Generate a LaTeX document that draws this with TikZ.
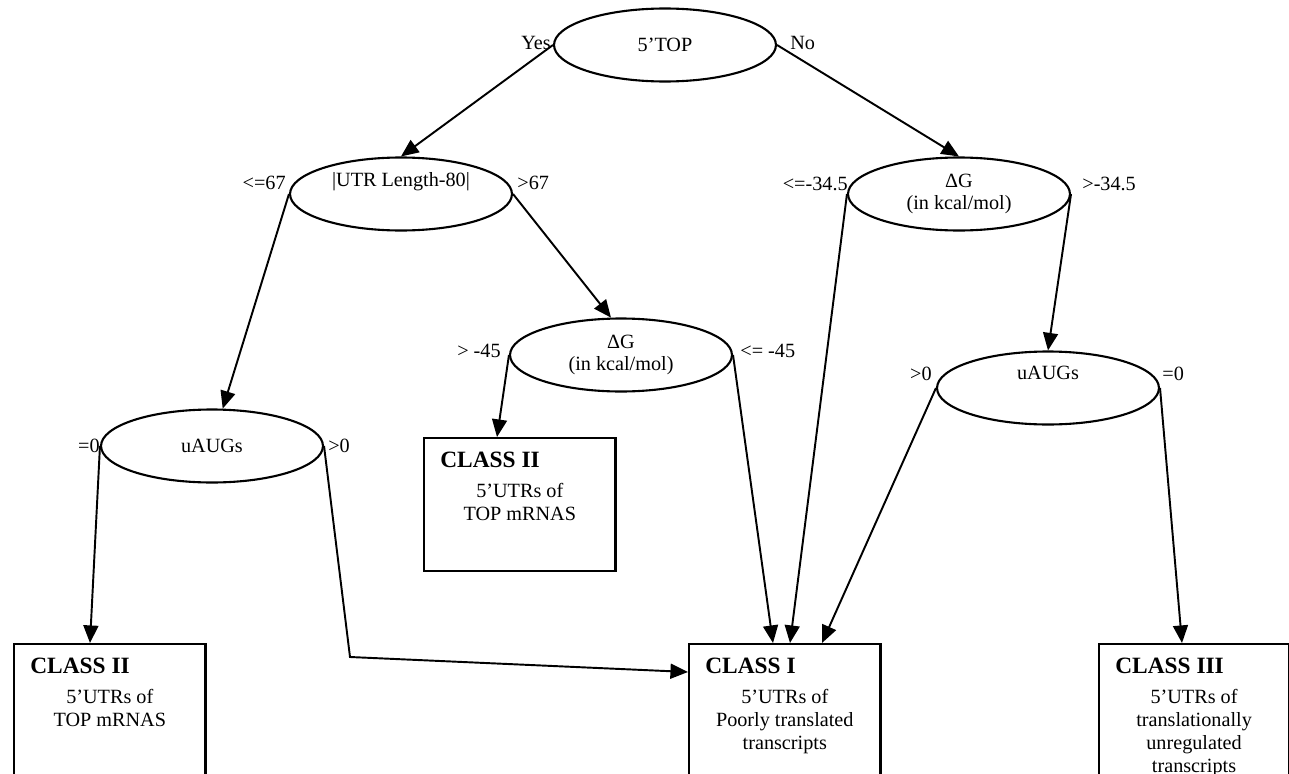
\documentclass[tikz,border=0pt]{standalone}
\usepackage{fontspec}
\setmainfont{Liberation Serif}
\usetikzlibrary{calc,positioning,arrows.meta,shapes.geometric}
\tikzstyle{test} = [ellipse, draw, line width=1.2pt, minimum width=4.44cm, minimum height=1.46cm, inner sep=0pt, align=center, font=\fontsize{11.5}{13}\selectfont]
\tikzstyle{classbox} = [rectangle, draw, line width=1.2pt, minimum width=3.83cm, minimum height=2.66cm, anchor=north west, inner sep=0pt]
\tikzstyle{classname} = [anchor=base west, inner sep=0pt, font=\fontsize{13.3}{15}\selectfont\bfseries]
\tikzstyle{classtext} = [anchor=north, align=center, inner sep=0pt, font=\fontsize{11.5}{13}\selectfont]
\tikzstyle{branch} = [inner sep=0pt, font=\fontsize{11.5}{13}\selectfont]
\tikzstyle{flow} = [line width=1.1pt, -{Triangle[length=10pt,width=8.5pt]}]

\begin{document}
\begin{tikzpicture}[x=0.02cm, y=-0.02cm]
      \useasboundingbox (0,0) rectangle (1289,774);
      % tests
      \node[test] (top) at (665,45) {5’TOP};
      \node[test] (len) at (401,194) {|UTR Length-80|\\\strut};
      \node[test] (dgR) at (959,194) {ΔG\\(in kcal/mol)};
      \node[test] (dgM) at (621,355) {ΔG\\(in kcal/mol)};
      \node[test] (uaR) at (1048,388) {uAUGs\\\strut};
      \node[test] (uaL) at (212,446) {uAUGs};
      % classes
      \node[classbox] (c2m) at (423,437) {};
      \node[classbox, minimum height=3cm] (c2l) at (13,643) {};
      \node[classbox, minimum height=3cm] (c1) at (688,643) {};
      \node[classbox, minimum height=3cm, minimum width=3.8cm] (c3) at (1098,643) {};
      \node[classname] (c2mname) at ($(c2m.north west)+(17,30)$) {CLASS II};
      \node[classtext] (c2mtext) at ($(c2m.north)+(0,46)$) {5’UTRs of\\TOP mRNAS};
      \node[classname] (c2lname) at ($(c2l.north west)+(17,30)$) {CLASS II};
      \node[classtext] (c2ltext) at ($(c2l.north)+(0,46)$) {5’UTRs of\\TOP mRNAS};
      \node[classname] (c1name) at ($(c1.north west)+(17,30)$) {CLASS I};
      \node[classtext] (c1text) at ($(c1.north)+(0,46)$) {5’UTRs of\\Poorly translated\\transcripts};
      \node[classname] (c3name) at ($(c3.north west)+(17,30)$) {CLASS III};
      \node[classtext] (c3text) at ($(c3.north)+(0,46)$) {5’UTRs of\\translationally\\unregulated\\transcripts};
      % branch labels
      \node[branch, anchor=base east] (yes) at (551,50) {Yes};
      \node[branch, anchor=base west] (no) at (790,50) {No};
      \node[branch, anchor=base east] (lenlo) at (286,189) {<=67};
      \node[branch, anchor=base west] (lenhi) at (517,189) {>67};
      \node[branch, anchor=base east] (dgRlo) at (848,190) {<=-34.5};
      \node[branch, anchor=base west] (dgRhi) at (1082,190) {>-34.5};
      \node[branch, anchor=base east] (dgMhi) at (501,357) {> -45};
      \node[branch, anchor=base west] (dgMlo) at (740,357) {<= -45};
      \node[branch, anchor=base east] (uaRhi) at (932,380) {>0};
      \node[branch, anchor=base west] (uaRzero) at (1162,380) {=0};
      \node[branch, anchor=base east] (uaLzero) at (100,452) {=0};
      \node[branch, anchor=base west] (uaLhi) at (328,452) {>0};
      % arrows
      \coordinate (bend) at (350,657);
      \draw[flow] (top.west) -- (len.north);
      \draw[flow] (top.east) -- (dgR.north);
      \draw[flow] (len.west) -- (uaL.74);
      \draw[flow] (len.east) -- (dgM.105);
      \draw[flow] (dgR.west) -- ($(c1.north west)+(102,0)$);
      \draw[flow] (dgR.east) -- (uaR.north);
      \draw[flow] (dgM.west) -- ($(c2m.north west)+(74,0)$);
      \draw[flow] (dgM.east) -- ($(c1.north west)+(85,0)$);
      \draw[flow] (uaR.west) -- ($(c1.north west)+(134,0)$);
      \draw[flow] (uaR.east) -- ($(c3.north west)+(84,0)$);
      \draw[flow] (uaL.west) -- ($(c2l.north west)+(77,0)$);
      \draw[flow] (uaL.east) -- (bend) -- ($(c1.north west)+(0,29)$);
\end{tikzpicture}
\end{document}
